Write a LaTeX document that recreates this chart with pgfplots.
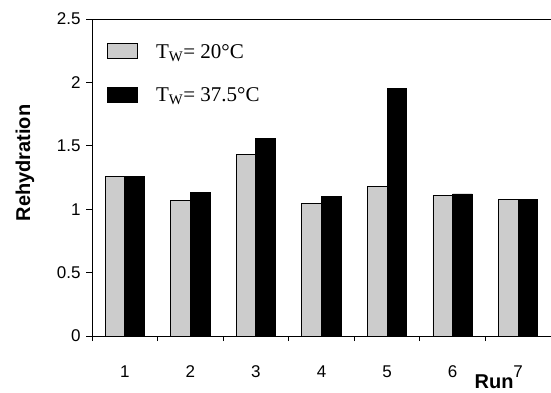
\documentclass[border=0pt]{standalone}
\usepackage{pgfplots}
\pgfplotsset{compat=1.18}
\usepackage{fontspec}
\setmainfont{Liberation Sans}
\newfontfamily\timesfont{Liberation Serif}
\begin{document}
\begin{tikzpicture}
\path[use as bounding box] (0,0) rectangle (551pt,393pt);
\begin{axis}[
  at={(92pt,57pt)}, anchor=south west,
  scale only axis, width=459pt, height=317pt,
  xmin=0.5, xmax=7.5, ymin=0, ymax=2.5,
  axis x line*=bottom, axis y line*=left,
  axis line style={line width=0.9pt, -},
  xtick={1,...,7}, major x tick style={draw=none},
  minor xtick={0.5,1.5,...,7.5},
  minor tick length=5pt,
  ytick={0,0.5,...,2.5}, major tick length=6pt,
  tick align=outside,
  tick style={black, line width=0.8pt},
  /pgf/number format/assume math mode=true,
  ticklabel style={font=\fontsize{17}{20}\selectfont},
  xticklabel style={yshift=-20pt},
  yticklabel style={xshift=-2pt},
  ylabel={\textbf{Rehydration}},
  ylabel style={at={(rel axis cs:0,0.546)}, anchor=center, rotate=0, yshift=67pt, font=\fontsize{20}{24}\selectfont},
  xlabel={\textbf{Run}},
  xlabel style={at={(rel axis cs:0.876,0)}, anchor=center, yshift=-46pt, font=\fontsize{20}{24}\selectfont},
  ybar, bar width=0.3,
  legend style={at={(15pt,294pt)}, anchor=north west, draw=none, fill=none, inner sep=0pt,
    row sep=24pt, font=\timesfont\fontsize{21}{24}\selectfont, legend cell align=left},
  legend image code/.code={\draw[#1, line width=0.9pt] (0pt,-7pt) rectangle (30pt,8pt);},
  clip=false,
]
\addplot[fill=black!20, draw=black, line width=0.9pt, bar shift=-0.15] coordinates {
(1,1.26) (2,1.07) (3,1.43) (4,1.046) (5,1.18) (6,1.11) (7,1.08)};
\addlegendentry{\hspace{16pt}T\textsubscript{W}= 20°C}
\addplot[fill=black, draw=black, line width=0.9pt, bar shift=0.15] coordinates {
(1,1.26) (2,1.13) (3,1.56) (4,1.10) (5,1.95) (6,1.12) (7,1.08)};
\addlegendentry{\hspace{16pt}T\textsubscript{W}= 37.5°C}
\draw[line width=0.9pt] (rel axis cs:0,1) -- (rel axis cs:1,1);
\end{axis}
\end{tikzpicture}
\end{document}
